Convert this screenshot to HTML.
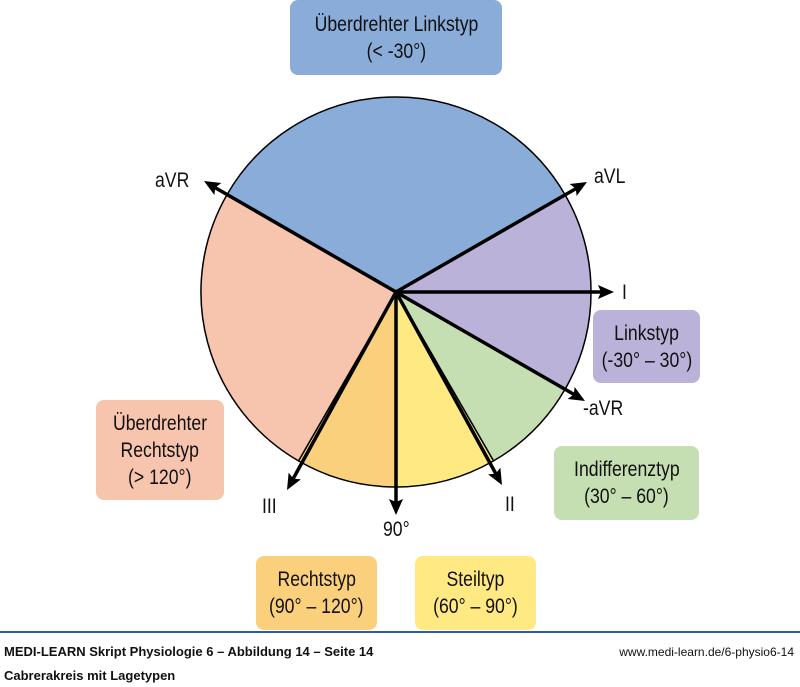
<!DOCTYPE html>
<html><head><meta charset="utf-8"><style>
body{margin:0;width:800px;height:687px;background:#fff;overflow:hidden;position:relative;font-family:"Liberation Sans",sans-serif;}
.b{position:absolute;border-radius:8px;text-align:center;font-size:21px;white-space:nowrap;line-height:27px;color:#111;display:flex;flex-direction:column;justify-content:center;align-items:center;}
.b span{display:inline-block;transform:scaleX(0.84);}
.l{position:absolute;font-size:21px;color:#111;line-height:22px;transform:scaleX(0.84);transform-origin:left;}
.f{position:absolute;font-weight:bold;font-size:13px;color:#111;}
</style></head><body>
<svg width="800" height="687" style="position:absolute;left:0;top:0">
<g stroke="#000" stroke-width="1.5">
<path d="M396,292 L227.1,194.5 A195,195 0 0 1 564.9,194.5 Z" fill="#8aacd9"/>
<path d="M396,292 L564.9,194.5 A195,195 0 0 1 564.9,389.5 Z" fill="#bbb2da"/>
<path d="M396,292 L564.9,389.5 A195,195 0 0 1 493.5,460.9 Z" fill="#c5deb2"/>
<path d="M396,292 L493.5,460.9 A195,195 0 0 1 396,487 Z" fill="#fee983"/>
<path d="M396,292 L396,487 A195,195 0 0 1 298.5,460.9 Z" fill="#fbd07d"/>
<path d="M396,292 L298.5,460.9 A195,195 0 0 1 227.1,194.5 Z" fill="#f7c4ae"/>
</g>
<g stroke="#000" stroke-width="3.5">
<line x1="396" y1="292" x2="214" y2="187"/>
<line x1="396" y1="292" x2="577" y2="188"/>
<line x1="396" y1="292" x2="602" y2="292"/>
<line x1="396" y1="292" x2="575" y2="395"/>
<line x1="396" y1="292" x2="496" y2="474"/>
<line x1="396" y1="292" x2="396" y2="503"/>
<line x1="396" y1="292" x2="293" y2="479"/>
</g>
<g fill="#000">
<polygon points="0,0 -16,-7 -13,0 -16,7" transform="translate(204,181) rotate(210)"/>
<polygon points="0,0 -16,-7 -13,0 -16,7" transform="translate(587,182) rotate(-30)"/>
<polygon points="0,0 -16,-7 -13,0 -16,7" transform="translate(614,292)"/>
<polygon points="0,0 -16,-7 -13,0 -16,7" transform="translate(585,401) rotate(30)"/>
<polygon points="0,0 -16,-7 -13,0 -16,7" transform="translate(502,485) rotate(61)"/>
<polygon points="0,0 -16,-7 -13,0 -16,7" transform="translate(396,515) rotate(90)"/>
<polygon points="0,0 -16,-7 -13,0 -16,7" transform="translate(287,490) rotate(119)"/>
</g>
<line x1="0" y1="632" x2="800" y2="632" stroke="#2b5ca8" stroke-width="2"/>
</svg>
<div class="b" style="left:290px;top:0;width:212px;height:75px;background:#8aacd9"><span>Überdrehter Linkstyp</span><span>(&lt; -30°)</span></div>
<div class="b" style="left:593px;top:310px;width:107px;height:73px;background:#bbb2da"><span>Linkstyp</span><span>(-30° – 30°)</span></div>
<div class="b" style="left:554px;top:446px;width:145px;height:74px;background:#c5deb2"><span>Indifferenztyp</span><span>(30° – 60°)</span></div>
<div class="b" style="left:256px;top:556px;width:121px;height:74px;background:#fbd07d"><span>Rechtstyp</span><span>(90° – 120°)</span></div>
<div class="b" style="left:415px;top:556px;width:121px;height:74px;background:#fee983"><span>Steiltyp</span><span>(60° – 90°)</span></div>
<div class="b" style="left:96px;top:400px;width:128px;height:100px;background:#f7c4ae"><span>Überdrehter</span><span>Rechtstyp</span><span>(&gt; 120°)</span></div>
<div class="l" style="left:155px;top:170px">aVR</div>
<div class="l" style="left:594px;top:166px">aVL</div>
<div class="l" style="left:622px;top:282px">I</div>
<div class="l" style="left:583px;top:398px">-aVR</div>
<div class="l" style="left:262px;top:496px">III</div>
<div class="l" style="left:383px;top:519px">90°</div>
<div class="l" style="left:505px;top:494px">II</div>
<div class="f" style="left:4px;top:644px">MEDI-LEARN Skript Physiologie 6 – Abbildung 14 – Seite 14</div>
<div class="f" style="left:4px;top:668px">Cabrerakreis mit Lagetypen</div>
<div style="position:absolute;right:6px;top:645px;font-size:12px;color:#111">www.medi-learn.de/6-physio6-14</div>
</body></html>
